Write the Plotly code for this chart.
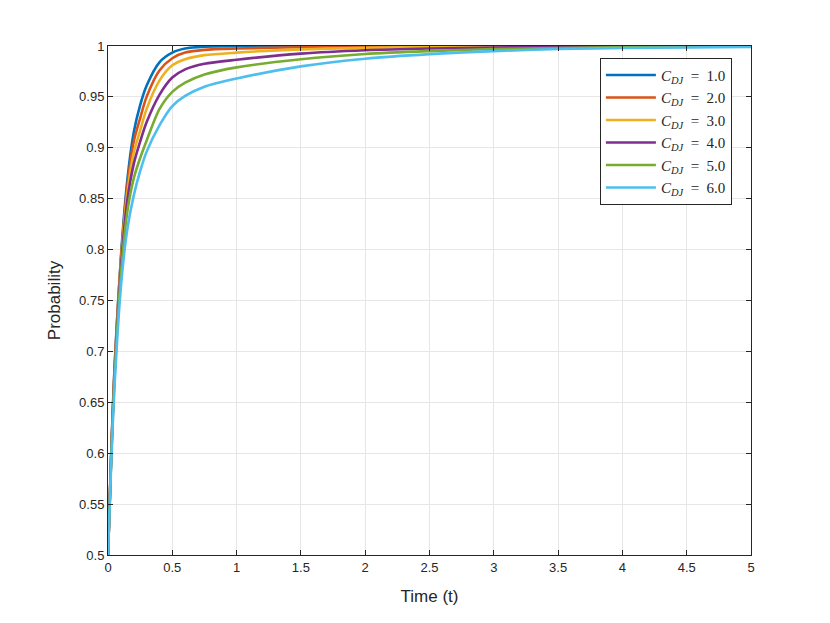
import plotly.graph_objects as go

# time samples (t) and read-off probabilities for each C_DJ value
t = [0, 0.025, 0.05, 0.1, 0.15, 0.2, 0.25, 0.3, 0.4, 0.5, 0.6, 0.75,
     1.0, 1.5, 2.0, 2.5, 3.0, 3.5, 4.0, 5.0]

p_c1 = [0.5, 0.600, 0.682, 0.792, 0.868, 0.915, 0.942, 0.961, 0.984, 0.9935,
        0.9975, 0.9993, 0.9998, 1.0, 1.0, 1.0, 1.0, 1.0, 1.0, 1.0]
p_c2 = [0.5, 0.599, 0.680, 0.789, 0.862, 0.906, 0.929, 0.950, 0.976, 0.988,
        0.9935, 0.9962, 0.9975, 0.9987, 0.9993, 0.9996, 0.9998, 0.9999, 0.9999, 1.0]
p_c3 = [0.5, 0.598, 0.678, 0.786, 0.855, 0.895, 0.917, 0.938, 0.966, 0.981,
        0.987, 0.991, 0.9935, 0.9967, 0.9982, 0.999, 0.9994, 0.9996, 0.9998, 0.9999]
p_c4 = [0.5, 0.597, 0.676, 0.782, 0.848, 0.884, 0.906, 0.925, 0.952, 0.969,
        0.977, 0.9825, 0.9865, 0.9925, 0.9958, 0.9975, 0.9985, 0.999, 0.9994, 0.9998]
p_c5 = [0.5, 0.595, 0.672, 0.775, 0.837, 0.870, 0.890, 0.907, 0.938, 0.955,
        0.964, 0.972, 0.979, 0.987, 0.9922, 0.995, 0.997, 0.998, 0.9988, 0.9995]
p_c6 = [0.5, 0.590, 0.664, 0.763, 0.820, 0.853, 0.877, 0.896, 0.922, 0.941,
        0.951, 0.960, 0.968, 0.980, 0.9875, 0.992, 0.995, 0.997, 0.998, 0.999]

series = [p_c1, p_c2, p_c3, p_c4, p_c5, p_c6]
labels = ["1.0", "2.0", "3.0", "4.0", "5.0", "6.0"]
colors = ["#0072BD", "#D95319", "#EDB120", "#7E2F8E", "#77AC30", "#4DBEEE"]

x_ticks = [0, 0.5, 1, 1.5, 2, 2.5, 3, 3.5, 4, 4.5, 5]
x_text = ["0", "0.5", "1", "1.5", "2", "2.5", "3", "3.5", "4", "4.5", "5"]
y_ticks = [0.5, 0.55, 0.6, 0.65, 0.7, 0.75, 0.8, 0.85, 0.9, 0.95, 1]
y_text = ["0.5", "0.55", "0.6", "0.65", "0.7", "0.75", "0.8", "0.85", "0.9", "0.95", "1"]

fig = go.Figure()
for p, lab, col in zip(series, labels, colors):
    fig.add_trace(go.Scatter(
        x=t, y=p, mode="lines",
        line=dict(color=col, width=2.6, shape="spline", smoothing=0.8),
        name="<i>C</i><sub><i>DJ</i></sub>&#8194;=&#8194;" + lab,
    ))

axis_common = dict(
    showline=True, linecolor="#262626", linewidth=1, mirror="ticks",
    ticks="inside", ticklen=5, tickcolor="#262626",
    showgrid=True, gridcolor="#e6e6e6", gridwidth=1,
    zeroline=False,
    tickfont=dict(family="Liberation Sans, Arial", size=13, color="#262626"),
)

fig.update_layout(
    width=830, height=623,
    margin=dict(l=100, r=87, t=38, b=76),
    paper_bgcolor="#FFFFFF",
    plot_bgcolor="#FFFFFF",
    showlegend=True,
    legend=dict(
        x=0.765, y=0.977, xanchor="left", yanchor="top",
        bgcolor="#FFFFFF", bordercolor="#262626", borderwidth=1,
        font=dict(family="Liberation Serif, Times New Roman", size=15, color="#262626"),
        tracegroupgap=0, itemwidth=50,
    ),
    xaxis=dict(
        range=[0, 5], tickvals=x_ticks, ticktext=x_text,
        title=dict(text="Time (t)", font=dict(family="Liberation Sans, Arial", size=17, color="#262626"), standoff=16),
        **axis_common,
    ),
    yaxis=dict(
        range=[0.5, 1], tickvals=y_ticks, ticktext=y_text,
        title=dict(text="Probability", font=dict(family="Liberation Sans, Arial", size=17, color="#262626"), standoff=14),
        **axis_common,
    ),
)

fig.write_html("out.html")
